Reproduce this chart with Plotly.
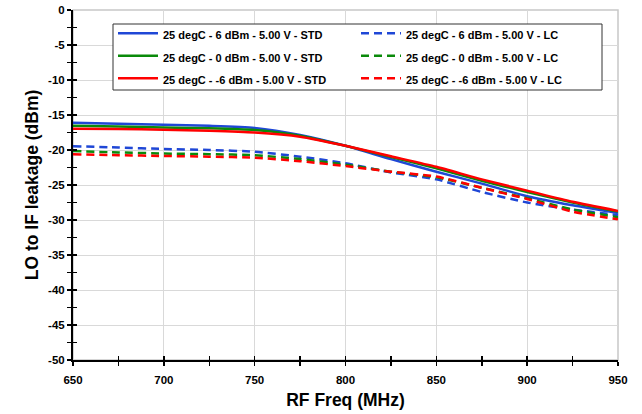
import plotly.graph_objects as go

freq = [650, 675, 700, 725, 750, 775, 800, 825, 850, 875, 900, 925, 950]

std_6 = [-16.1, -16.25, -16.4, -16.55, -16.85, -17.85, -19.4, -21.3, -23.1, -24.8, -26.6, -27.9, -29.0]
std_0 = [-16.55, -16.65, -16.8, -16.9, -17.15, -17.95, -19.4, -21.0, -22.6, -24.4, -26.0, -27.5, -28.8]
std_m6 = [-16.95, -17.0, -17.1, -17.25, -17.5, -18.1, -19.4, -20.9, -22.4, -24.2, -25.8, -27.4, -28.7]

lc_6 = [-19.45, -19.65, -19.85, -20.0, -20.25, -20.95, -21.9, -23.2, -24.2, -26.0, -27.5, -28.5, -29.3]
lc_0 = [-20.15, -20.35, -20.5, -20.6, -20.75, -21.3, -22.1, -23.1, -23.9, -25.4, -26.9, -28.5, -29.6]
lc_m6 = [-20.6, -20.75, -20.85, -20.95, -21.1, -21.6, -22.3, -23.1, -23.8, -25.4, -27.0, -28.8, -29.9]

x_ticks = [650, 700, 750, 800, 850, 900, 950]
x_tick_labels = ["650", "700", "750", "800", "850", "900", "950"]
y_ticks = [0, -5, -10, -15, -20, -25, -30, -35, -40, -45, -50]
y_tick_labels = ["0", "-5", "-10", "-15", "-20", "-25", "-30", "-35", "-40", "-45", "-50"]

names = [
    "25 degC - 6 dBm - 5.00 V - STD", "25 degC - 6 dBm - 5.00 V - LC",
    "25 degC - 0 dBm - 5.00 V - STD", "25 degC - 0 dBm - 5.00 V - LC",
    "25 degC - -6 dBm - 5.00 V - STD", "25 degC - -6 dBm - 5.00 V - LC",
]
series = [std_6, lc_6, std_0, lc_0, std_m6, lc_m6]
colors = ["#1f47d6", "#1f47d6", "#0a8a0a", "#0a8a0a", "#ff0000", "#ff0000"]
dashes = ["solid", "8px,5px", "solid", "8px,5px", "solid", "8px,5px"]

FONT = "Arial, Liberation Sans, sans-serif"

fig = go.Figure()
for n, s, c, d in zip(names, series, colors, dashes):
    fig.add_trace(go.Scatter(x=freq, y=s, name="<span style='font-size:11px'>" + n + "</span>",
                             mode="lines",
                             line=dict(color=c, width=2.5, dash=d, shape="spline", smoothing=0.6)))

xr = [650, 950]
yr = [-50, 0]
PW, PH = 545, 350  # plot area size in px

fig.update_layout(
    width=642, height=414,
    margin=dict(l=73, r=24, t=10, b=54, autoexpand=False),
    paper_bgcolor="white", plot_bgcolor="white",
    font=dict(family=FONT, size=11, color="black", weight="bold"),
    showlegend=True,
    legend=dict(
        orientation="h", x=40 / PW, y=1 - 7 / PH, xanchor="left", yanchor="top",
        bgcolor="rgba(0,0,0,0)", borderwidth=0,
        entrywidth=188, entrywidthmode="pixels",
        font=dict(family=FONT, size=15, color="black", weight="bold"),
        itemwidth=40,
    ),
    xaxis=dict(
        range=xr, tickvals=x_ticks, ticktext=x_tick_labels, showgrid=True, gridcolor="#d9d9d9", gridwidth=1,
        showline=True, linecolor="black", linewidth=2, automargin=False,
        ticks="outside", ticklen=4, tickwidth=1.5, tickcolor="black", ticklabelstandoff=4,
        ticklabeloverflow="allow",
        minor=dict(dtick=25, tick0=650, ticks="outside", ticklen=4, tickwidth=1.5, tickcolor="black", showgrid=False),
        tickfont=dict(family=FONT, size=11.5, color="black", weight="bold"),
        title=dict(text="RF Freq (MHz)", font=dict(family=FONT, size=17.5, color="black", weight="bold"), standoff=9),
        zeroline=False, fixedrange=True,
    ),
    yaxis=dict(
        range=yr, tickvals=y_ticks, ticktext=y_tick_labels, showgrid=True, gridcolor="#d9d9d9", gridwidth=1,
        showline=True, linecolor="black", linewidth=2, automargin=False,
        ticks="outside", ticklen=4, tickwidth=1.5, tickcolor="black",
        ticklabeloverflow="allow",
        minor=dict(dtick=2.5, tick0=0, ticks="outside", ticklen=4, tickwidth=1.5, tickcolor="black", showgrid=False),
        tickfont=dict(family=FONT, size=11.5, color="black", weight="bold"),
        title=dict(text="LO to IF leakage (dBm)", font=dict(family=FONT, size=17.5, color="black", weight="bold"), standoff=5),
        zeroline=False, fixedrange=True,
    ),
    xaxis2=dict(
        overlaying="x", matches="x", range=xr, dtick=50, tick0=650, side="bottom",
        showgrid=False, showline=False, showticklabels=False, zeroline=False, automargin=False,
        ticks="inside", ticklen=4, tickwidth=1.5, tickcolor="black",
        minor=dict(dtick=25, tick0=650, ticks="inside", ticklen=4, tickwidth=1.5, tickcolor="black", showgrid=False),
    ),
    yaxis2=dict(
        overlaying="y", matches="y", range=yr, dtick=5, tick0=0, side="left",
        showgrid=False, showline=False, showticklabels=False, zeroline=False, automargin=False,
        ticks="inside", ticklen=4, tickwidth=1.5, tickcolor="black",
        minor=dict(dtick=2.5, tick0=0, ticks="inside", ticklen=4, tickwidth=1.5, tickcolor="black", showgrid=False),
    ),
    shapes=[
        dict(type="rect", xref="paper", yref="paper", x0=0, x1=1, y0=0, y1=1,
             line=dict(color="#c8c8c8", width=1.5), layer="below"),
        # legend frame
        dict(type="rect", xref="paper", yref="paper",
             x0=40 / PW, x1=529 / PW, y0=1 - 80 / PH, y1=1 - 14 / PH,
             line=dict(color="#333333", width=1), fillcolor="white", layer="above"),
    ],
)

# invisible helper so the overlay tick axes are rendered
fig.add_trace(go.Scatter(x=xr, y=yr, xaxis="x2", yaxis="y2", mode="lines",
                         line=dict(width=0), showlegend=False, hoverinfo="skip"))

fig.write_html("out.html", config={"displayModeBar": False, "staticPlot": True},
               post_script="document.body.style.margin='0';")
